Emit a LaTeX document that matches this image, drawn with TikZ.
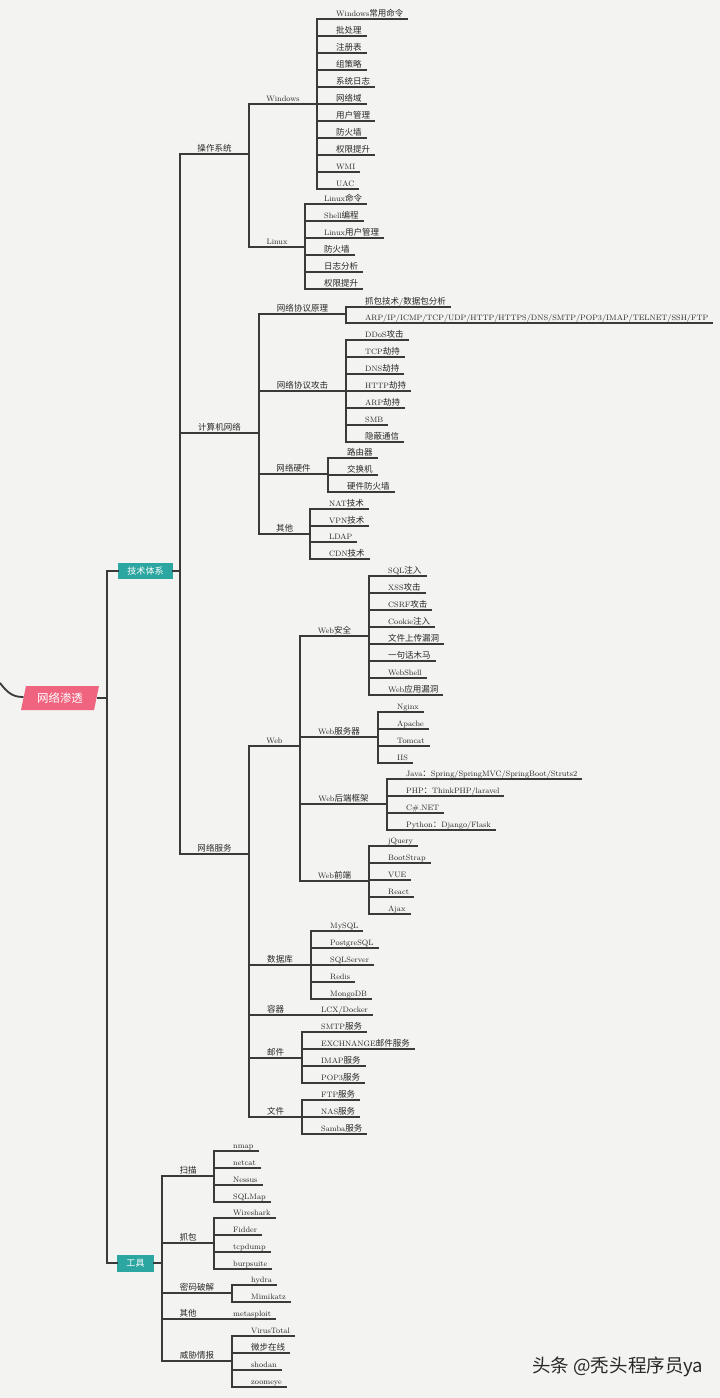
\documentclass[tikz,border=0pt]{standalone}
\usepackage{fontspec}
\newfontfamily\cjk{Noto Sans CJK SC}[Scale=1.09]
\XeTeXinterchartokenstate=1
\newXeTeXintercharclass\CJKcls
\count255="3000
\loop
  \XeTeXcharclass\count255=\CJKcls
  \advance\count255 by 1
\ifnum\count255<"A000 \repeat
\XeTeXcharclass"FF1A=\CJKcls
\XeTeXcharclass"FF0C=\CJKcls
\XeTeXinterchartoks 0 \CJKcls={\cjk}
\XeTeXinterchartoks 4095 \CJKcls={\cjk}
\XeTeXinterchartoks \CJKcls 0={\rmfamily}
\definecolor{bgc}{RGB}{243,243,241}
\definecolor{linec}{RGB}{58,58,58}
\definecolor{txtc}{RGB}{40,40,40}
\definecolor{rootc}{RGB}{240,100,128}
\definecolor{tealc}{RGB}{44,166,160}
\tikzset{
  conn/.style={draw=linec, line width=1.8pt, line cap=rect},
  leaf/.style={inner sep=0pt, text=txtc, font=\fontsize{7.8}{9}\selectfont},
  lbl/.style={inner sep=0pt, text=txtc, font=\fontsize{7.8}{9}\selectfont},
  tbox/.style={fill=tealc, text=white, inner sep=0pt, font=\fontsize{8.3}{9}\selectfont},
}
% branch: name, x1, x2, y, text
\newcommand\mmbranch[5]{%
  \coordinate (#1-a) at (#2,#4);
  \coordinate (#1-b) at (#3,#4);
  \node[lbl, anchor=base] (#1) at ({(#2+#3)/2},#4-3) {#5};
  \draw[conn] (#1-a) -- (#1-b);
}
% leaf: name, bar x, y, text
\newcommand\mmleaf[4]{%
  \coordinate (#1-a) at (#2,#3);
  \node[leaf, anchor=base west] (#1) at (#2+19,#3-3) {#4};
  \path (#1.base east) ++(4,3) coordinate (#1-b);
  \draw[conn] (#1-a) -- (#1-b);
}
\begin{document}
\begin{tikzpicture}[x=1pt,y=-1pt]
\useasboundingbox (0,0) rectangle (720,1398);
\fill[bgc] (0,0) rectangle (720,1398);

% root
\fill[rootc] (26,686) -- (99,686) -- (94,710) -- (21,710) -- cycle;
\node[inner sep=0pt, text=white, font=\fontsize{10.5}{11}\selectfont] (root) at (60,698) {网络渗透};
\coordinate (in) at (0,683);
\coordinate (root-l) at (23,697);
\coordinate (root-r) at (98,698);
\coordinate (top-m) at (107,698);
\draw[conn, line cap=round] (in) .. controls (7,692) and (12,697) .. (root-l);
\draw[conn] (root-r) -- (top-m);

% level 1 boxes
\node[tbox, minimum width=55pt, minimum height=16pt] (tech) at (145.5,571) {技术体系};
\node[tbox, minimum width=37pt, minimum height=17pt] (tool) at (135.5,1263) {工具};
\coordinate (top-t) at (107,571);
\coordinate (top-b) at (107,1263);
\draw[conn] (top-t) -- (top-b);
\draw[conn] (top-t) -- (tech.west);
\draw[conn] (top-b) -- (tool.west);
\coordinate (tech-r) at (180,571);
\draw[conn] (tech.east) -- (tech-r);

% ===== 操作系统
\mmbranch{os}{180}{249}{154}{操作系统}
\mmbranch{win}{249}{317}{104}{Windows}
\mmbranch{lin}{249}{305}{247}{Linux}
\draw[conn] (win-a) -- (lin-a);
\mmleaf{w1}{317}{19}{Windows常用命令}
\mmleaf{w2}{317}{36}{批处理}
\mmleaf{w3}{317}{53}{注册表}
\mmleaf{w4}{317}{70}{组策略}
\mmleaf{w5}{317}{87}{系统日志}
\mmleaf{w6}{317}{104}{网络域}
\mmleaf{w7}{317}{121}{用户管理}
\mmleaf{w8}{317}{138}{防火墙}
\mmleaf{w9}{317}{155}{权限提升}
\mmleaf{w10}{317}{172}{WMI}
\mmleaf{w11}{317}{189}{UAC}
\draw[conn] (w1-a) -- (w11-a);
\mmleaf{l1}{305}{204}{Linux命令}
\mmleaf{l2}{305}{221}{Shell编程}
\mmleaf{l3}{305}{238}{Linux用户管理}
\mmleaf{l4}{305}{255}{防火墙}
\mmleaf{l5}{305}{272}{日志分析}
\mmleaf{l6}{305}{289}{权限提升}
\draw[conn] (l1-a) -- (l6-a);

% ===== 计算机网络
\mmbranch{net}{180}{259}{433}{计算机网络}
\mmbranch{pro}{259}{346}{314}{网络协议原理}
\mmbranch{att}{259}{346}{391}{网络协议攻击}
\mmbranch{hw}{259}{328}{474}{网络硬件}
\mmbranch{no}{259}{310}{534}{其他}
\draw[conn] (pro-a) -- (no-a);
\mmleaf{p1}{346}{307}{抓包技术/数据包分析}
\mmleaf{p2}{346}{323}{ARP/IP/ICMP/TCP/UDP/HTTP/HTTPS/DNS/SMTP/POP3/IMAP/TELNET/SSH/FTP}
\draw[conn] (p1-a) -- (p2-a);
\mmleaf{a1}{346}{340}{DDoS攻击}
\mmleaf{a2}{346}{357}{TCP劫持}
\mmleaf{a3}{346}{374}{DNS劫持}
\mmleaf{a4}{346}{391}{HTTP劫持}
\mmleaf{a5}{346}{408}{ARP劫持}
\mmleaf{a6}{346}{425}{SMB}
\mmleaf{a7}{346}{442}{隐蔽通信}
\draw[conn] (a1-a) -- (a7-a);
\mmleaf{h1}{328}{458}{路由器}
\mmleaf{h2}{328}{475}{交换机}
\mmleaf{h3}{328}{492}{硬件防火墙}
\draw[conn] (h1-a) -- (h3-a);
\mmleaf{o1}{310}{509}{NAT技术}
\mmleaf{o2}{310}{526}{VPN技术}
\mmleaf{o3}{310}{542}{LDAP}
\mmleaf{o4}{310}{559}{CDN技术}
\draw[conn] (o1-a) -- (o4-a);

% ===== 网络服务
\mmbranch{svc}{180}{249}{854}{网络服务}
\draw[conn] (os-a) -- (svc-a);
\mmbranch{web}{249}{300}{746}{Web}
\mmbranch{db}{249}{311}{965}{数据库}
\mmbranch{ctr}{249}{302}{1015}{容器}
\mmbranch{mail}{249}{302}{1058}{邮件}
\mmbranch{file}{249}{302}{1117}{文件}
\draw[conn] (web-a) -- (file-a);
\mmbranch{ws}{300}{369}{636}{Web安全}
\mmbranch{wv}{300}{378}{737}{Web服务器}
\mmbranch{wb}{300}{387}{804}{Web后端框架}
\mmbranch{wf}{300}{369}{881}{Web前端}
\draw[conn] (ws-a) -- (wf-a);
\mmleaf{s1}{369}{576}{SQL注入}
\mmleaf{s2}{369}{593}{XSS攻击}
\mmleaf{s3}{369}{610}{CSRF攻击}
\mmleaf{s4}{369}{627}{Cookie注入}
\mmleaf{s5}{369}{644}{文件上传漏洞}
\mmleaf{s6}{369}{661}{一句话木马}
\mmleaf{s7}{369}{678}{WebShell}
\mmleaf{s8}{369}{695}{Web应用漏洞}
\draw[conn] (s1-a) -- (s8-a);
\mmleaf{v1}{378}{712}{Nginx}
\mmleaf{v2}{378}{729}{Apache}
\mmleaf{v3}{378}{746}{Tomcat}
\mmleaf{v4}{378}{763}{IIS}
\draw[conn] (v1-a) -- (v4-a);
\mmleaf{b1}{387}{779}{Java：Spring/SpringMVC/SpringBoot/Struts2}
\mmleaf{b2}{387}{796}{PHP：ThinkPHP/laravel}
\mmleaf{b3}{387}{813}{C\#.NET}
\mmleaf{b4}{387}{830}{Python：Django/Flask}
\draw[conn] (b1-a) -- (b4-a);
\mmleaf{f1}{369}{846}{jQuery}
\mmleaf{f2}{369}{863}{BootStrap}
\mmleaf{f3}{369}{880}{VUE}
\mmleaf{f4}{369}{897}{React}
\mmleaf{f5}{369}{914}{Ajax}
\draw[conn] (f1-a) -- (f5-a);
\mmleaf{d1}{311}{931}{MySQL}
\mmleaf{d2}{311}{948}{PostgreSQL}
\mmleaf{d3}{311}{965}{SQLServer}
\mmleaf{d4}{311}{982}{Redis}
\mmleaf{d5}{311}{999}{MongoDB}
\draw[conn] (d1-a) -- (d5-a);
\mmleaf{c1}{302}{1015}{LCX/Docker}
\mmleaf{m1}{302}{1032}{SMTP服务}
\mmleaf{m2}{302}{1049}{EXCHNANGE邮件服务}
\mmleaf{m3}{302}{1066}{IMAP服务}
\mmleaf{m4}{302}{1083}{POP3服务}
\draw[conn] (m1-a) -- (m4-a);
\mmleaf{fl1}{302}{1100}{FTP服务}
\mmleaf{fl2}{302}{1117}{NAS服务}
\mmleaf{fl3}{302}{1134}{Samba服务}
\draw[conn] (fl1-a) -- (fl3-a);

% ===== 工具
\coordinate (tool-r) at (162,1263);
\draw[conn] (tool.east) -- (tool-r);
\mmbranch{sc}{162}{214}{1176}{扫描}
\mmbranch{cp}{162}{214}{1243}{抓包}
\mmbranch{pw}{162}{232}{1293}{密码破解}
\mmbranch{ot}{162}{214}{1319}{其他}
\mmbranch{ti}{162}{232}{1361}{威胁情报}
\draw[conn] (sc-a) -- (ti-a);
\mmleaf{t1}{214}{1151}{nmap}
\mmleaf{t2}{214}{1168}{netcat}
\mmleaf{t3}{214}{1185}{Nessus}
\mmleaf{t4}{214}{1202}{SQLMap}
\draw[conn] (t1-a) -- (t4-a);
\mmleaf{k1}{214}{1218}{Wireshark}
\mmleaf{k2}{214}{1235}{Fidder}
\mmleaf{k3}{214}{1252}{tcpdump}
\mmleaf{k4}{214}{1269}{burpsuite}
\draw[conn] (k1-a) -- (k4-a);
\mmleaf{y1}{232}{1285}{hydra}
\mmleaf{y2}{232}{1302}{Mimikatz}
\draw[conn] (y1-a) -- (y2-a);
\mmleaf{e1}{214}{1319}{metasploit}
\mmleaf{i1}{232}{1336}{VirusTotal}
\mmleaf{i2}{232}{1353}{微步在线}
\mmleaf{i3}{232}{1370}{shodan}
\mmleaf{i4}{232}{1387}{zoomeye}
\draw[conn] (i1-a) -- (i4-a);

% watermark
\node[anchor=west, inner sep=0pt, text=txtc, font=\fontsize{17}{18}\selectfont] (wm) at (532,1367) {\XeTeXinterchartokenstate=0 \cjk 头条 @秃头程序员ya};
\end{tikzpicture}
\end{document}
